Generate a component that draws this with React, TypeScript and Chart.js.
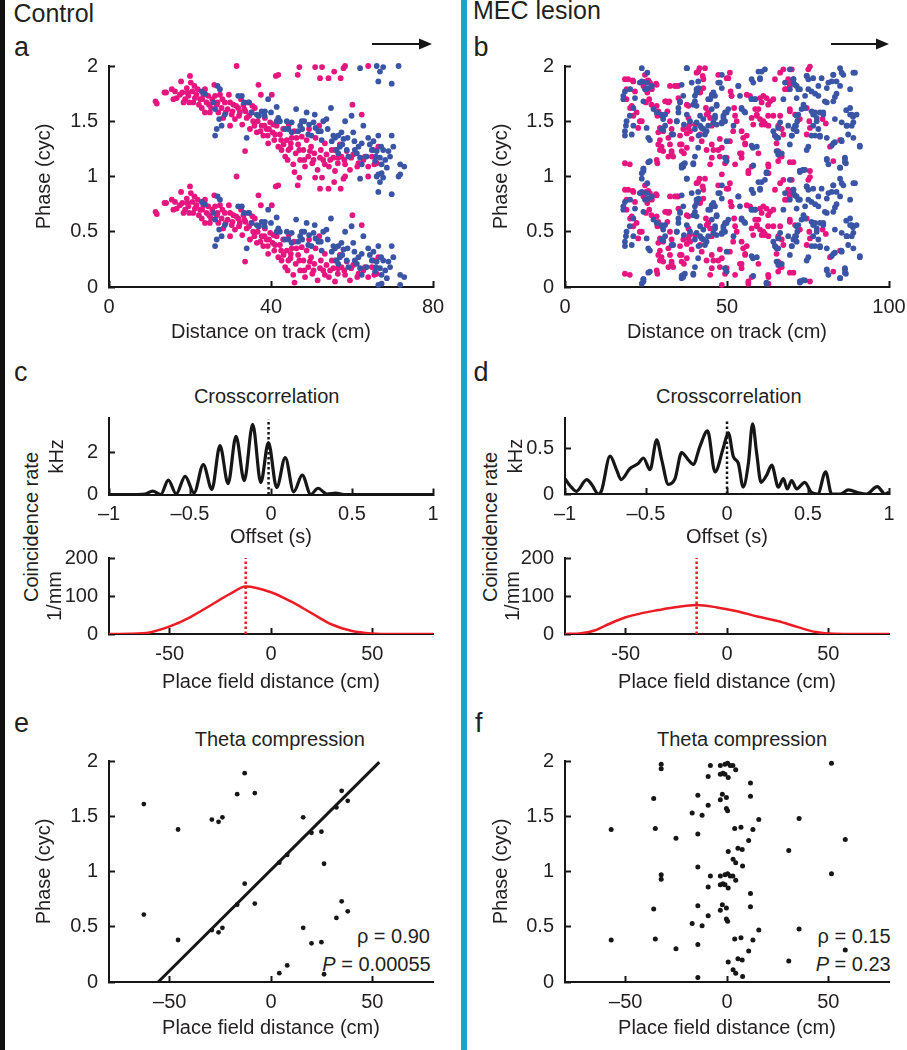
import React, { useEffect, useRef } from 'react';
import { Chart, registerables } from 'chart.js';

Chart.register(...registerables);

const FONT = "'Liberation Sans', Arial, Helvetica, sans-serif";
const INK = '#231f20';
const PINK = '#e6157f';
const BLUE = '#3a55a5';
const RED = '#ec1c24';
const CYAN = '#1ba5c9';
const LINE = '#161616';

// ---------- panel a (Control): distance on track (cm) vs theta phase (cycle, plotted twice) ----------
const aPinkX = [11.5, 11.8, 13.7, 14.1, 15.9, 16.3, 17.8, 18.1, 18.8, 19.2, 19.6, 20.0, 20.2, 20.6, 20.8, 21.2, 21.9, 22.5, 22.9, 23.3, 23.7, 24.1, 24.5, 25.2, 25.5, 26.0, 26.6, 27.0, 27.4, 27.8, 28.2, 28.6, 29.3, 29.6, 29.9, 30.3, 30.7, 31.1, 31.5, 31.9, 32.1, 32.6, 32.9, 33.4, 33.6, 34.0, 34.4, 34.8, 35.2, 35.6, 36.0, 36.5, 36.9, 37.0, 37.5, 37.7, 38.1, 38.5, 38.9, 39.3, 39.8, 40.2, 40.4, 40.8, 41.2, 41.4, 41.8, 41.8, 42.2, 42.6, 43.0, 43.5, 43.9, 44.1, 44.4, 44.8, 45.1, 45.5, 45.7, 46.1, 46.6, 46.7, 47.2, 47.6, 48.0, 48.4, 48.8, 49.2, 49.4, 49.9, 50.2, 50.7, 51.0, 51.5, 51.9, 52.3, 52.9, 53.3, 53.7, 54.3, 55.0, 55.4, 55.8, 56.5, 57.0, 57.4, 58.1, 58.7, 59.5, 60.1, 60.3, 61.6, 62.4, 62.8, 64.0, 65.3, 66.1, 66.5, 45.8, 47.0, 50.9, 52.1, 52.6, 54.2, 55.6, 57.2, 57.9, 58.3, 64.0,
  15.5, 16.7, 17.5, 18.4, 19.4, 19.8, 21.1, 21.6, 22.2, 23.0, 23.7, 24.7, 24.9, 26.2, 26.8, 28.0, 28.8, 29.9, 30.5, 31.4, 32.3, 33.2, 33.7, 34.6, 35.4, 35.9, 36.7, 37.4, 38.4, 39.2, 39.5, 40.6, 41.0, 42.5, 43.1, 44.3, 44.9, 46.3, 47.0, 48.2, 49.6, 50.5, 52.1, 53.3, 54.6, 55.8, 56.6, 58.3, 59.8, 61.3, 63.2, 64.9, 65.5];
const aPinkP = [0.68, 0.66, 0.76, 0.76, 0.70, 0.77, 0.86, 0.76, 0.70, 0.80, 0.73, 0.91, 0.85, 0.77, 0.67, 0.71, 0.79, 0.70, 0.62, 0.74, 0.58, 0.67, 0.73, 0.62, 0.70, 0.83, 0.65, 0.58, 0.74, 0.62, 0.53, 0.67, 0.61, 0.74, 0.46, 0.56, 0.65, 0.52, 1.0, 0.62, 0.55, 0.70, 0.47, 0.61, 0.23, 0.53, 0.67, 0.43, 0.58, 0.50, 0.62, 0.40, 0.83, 0.55, 0.74, 0.46, 0.37, 0.53, 0.43, 0.30, 0.49, 0.74, 0.40, 0.33, 0.91, 0.46, 0.92, 0.27, 0.38, 0.24, 0.43, 0.18, 0.33, 0.15, 0.47, 0.26, 0.35, 0.11, 0.41, 0.21, 0.92, 0.29, 0.15, 0.36, 0.24, 0.09, 0.33, 0.18, 0.43, 0.27, 0.12, 0.21, 0.35, 0.06, 0.46, 0.24, 0.15, 0.30, 0.20, 0.09, 0.24, 0.17, 0.05, 0.12, 0.29, 0.18, 0.15, 0.23, 0.06, 0.65, 0.20, 0.12, 0.56, 0.15, 0.09, 0.24, 0.12, 0.27, 0.04, 0.99, 0.99, 0.89, 0.99, 0.89, 0.95, 0.89, 0.98, 1.0, 1.0,
  0.79, 0.71, 0.74, 0.67, 0.76, 0.67, 0.82, 0.74, 0.65, 0.70, 0.79, 0.65, 0.58, 0.73, 0.67, 0.70, 0.58, 0.67, 0.59, 0.64, 0.58, 0.65, 0.59, 0.55, 0.64, 0.46, 0.50, 0.41, 0.46, 0.37, 0.43, 0.47, 0.38, 0.33, 0.29, 0.24, 0.30, 0.35, 0.24, 0.15, 0.23, 0.15, 0.17, 0.11, 0.15, 0.24, 0.17, 0.11, 0.17, 0.09, 0.18, 0.18, 0.11];
const aBlueX = [22.9, 23.7, 25.8, 26.2, 26.8, 27.4, 27.2, 26.6, 27.8, 26.2, 28.6, 31.9, 32.8, 33.4, 34.6, 34.0, 35.2, 36.5, 36.9, 37.7, 38.5, 39.3, 40.0, 41.4, 41.4, 42.2, 43.5, 44.3, 45.1, 46.2, 46.7, 47.2, 47.7, 48.2, 48.8, 49.4, 50.0, 50.8, 51.0, 51.7, 52.3, 52.9, 53.7, 54.8, 55.0, 55.8, 56.2, 56.6, 57.0, 57.4, 57.9, 58.3, 58.7, 59.1, 59.9, 60.6, 60.7, 61.6, 62.0, 62.4, 62.8, 63.6, 64.0, 64.9, 65.3, 65.7, 66.1, 66.5, 66.9, 67.3, 67.7, 68.6, 69.0, 69.4, 69.8, 70.2, 67.3, 71.9, 72.9, 71.9, 66.5, 62.0, 66.1, 66.9, 67.7, 66.5, 69.8, 71.5,
  45.1, 47.6, 49.2, 50.5, 52.5, 54.0, 55.4, 56.6, 57.6, 58.9, 60.3, 61.2, 62.4, 64.4, 65.9, 67.2, 68.2, 41.8, 43.9, 38.4];
const aBlueP = [0.77, 0.75, 0.67, 0.61, 0.82, 0.79, 0.52, 0.43, 0.46, 0.37, 0.56, 0.73, 0.73, 0.67, 0.67, 0.35, 0.58, 0.56, 0.55, 0.59, 0.59, 0.70, 0.58, 0.63, 0.50, 0.50, 0.43, 0.43, 0.49, 0.61, 0.41, 0.46, 0.43, 0.50, 0.58, 0.47, 0.37, 0.56, 0.44, 0.41, 0.41, 0.50, 0.52, 0.62, 0.32, 0.35, 0.24, 0.37, 0.27, 0.40, 0.34, 0.50, 0.24, 0.18, 0.55, 0.32, 0.24, 0.27, 0.17, 0.11, 0.46, 0.18, 0.35, 0.24, 0.32, 0.14, 0.23, 0.37, 0.17, 0.11, 0.24, 0.08, 0.23, 0.18, 0.37, 0.27, 0.03, 0.11, 0.09, 0.02, 0.02, 0.98, 1.0, 0.95, 0.99, 0.86, 0.84, 1.0,
  0.40, 0.50, 0.38, 0.49, 0.33, 0.43, 0.37, 0.21, 0.29, 0.35, 0.40, 0.21, 0.30, 0.29, 0.18, 0.27, 0.15, 0.53, 0.50, 0.55];

// ---------- panel b (MEC lesion) ----------
const bPinkX = [18.5, 19.5, 20.9, 18.5, 20.0, 19.0, 20.6, 21.6, 22.1, 23.1, 24.2, 25.0, 25.7, 26.2, 26.7, 24.7, 25.4, 25.0, 26.0, 26.7, 28.1, 28.5, 28.8, 29.3, 29.8, 30.3, 28.3, 28.5, 31.2, 32.2, 31.6, 32.4, 32.9, 31.9, 32.4, 32.9, 33.4, 33.9, 34.9, 35.5, 36.0, 36.5, 36.7, 37.6, 38.1, 38.1, 38.4, 40.6, 41.5, 41.7, 42.5, 42.7, 43.5, 44.2, 41.7, 42.2, 43.7, 44.8, 45.3, 47.3, 47.8, 48.4, 49.4, 50.4, 50.9, 51.1, 51.4, 52.2, 52.5, 53.0, 54.5, 55.0, 55.6, 54.0, 54.5, 56.1, 57.1, 56.6, 57.6, 58.1, 58.7, 59.2, 60.2, 60.7, 61.2, 61.7, 62.8, 62.8, 62.8, 63.3, 64.3, 64.8, 65.3, 65.8, 66.4, 66.4, 67.4, 68.4, 68.9, 69.4, 69.4, 70.5, 71.0, 74.6, 75.1, 75.6, 75.4, 75.6, 81.8, 84.9, 82.8, 79.5, 80.5];
const bPinkP = [0.88, 0.88, 0.87, 0.12, 0.11, 0.79, 0.64, 0.77, 0.58, 0.50, 0.82, 0.86, 0.87, 0.85, 0.80, 0.92, 0.76, 0.67, 0.70, 0.65, 0.84, 0.55, 0.40, 0.33, 0.27, 0.23, 0.15, 0.12, 0.68, 0.68, 0.59, 0.50, 0.43, 0.35, 0.29, 0.23, 0.18, 0.82, 0.82, 0.37, 0.29, 0.43, 0.21, 0.39, 0.64, 0.53, 0.47, 0.94, 0.98, 0.77, 0.91, 0.80, 0.62, 0.58, 0.38, 0.32, 0.24, 0.11, 0.17, 0.24, 0.18, 0.02, 0.12, 0.89, 0.94, 0.77, 0.73, 0.62, 0.55, 0.50, 0.41, 0.35, 0.30, 0.21, 0.17, 0.74, 0.73, 0.03, 0.09, 0.47, 0.61, 0.56, 0.71, 0.67, 0.50, 0.48, 0.03, 0.09, 0.46, 0.68, 0.70, 0.37, 0.30, 0.23, 0.18, 0.94, 0.97, 0.79, 0.85, 0.61, 0.13, 0.13, 0.56, 0.62, 0.97, 0.995, 0.50, 0.44, 0.27, 0.33, 0.14, 0.52, 0.48];
const bPinkXMore = [21.1, 26.8, 28.3, 32.4, 34.5, 19.0, 20.1, 21.1, 23.7, 22.6, 28.3, 28.8, 29.8, 30.9, 31.9, 29.3, 30.3, 28.8, 29.3, 32.9, 31.9, 35.5, 36.0, 35.0, 37.6, 38.1, 38.6, 40.1, 39.1, 37.6, 41.1, 43.2, 42.7, 41.7, 43.7, 44.8, 45.3, 45.3, 45.8, 47.8, 48.4, 47.3, 49.9, 51.4, 49.9, 50.9, 51.9, 52.5,
  64.8, 68.9, 70.0, 67.9, 69.4, 61.2, 62.2, 62.7, 59.7, 59.2, 57.6, 60.2, 60.7, 61.6, 62.7, 64.3, 66.4, 65.8, 66.9, 67.4, 69.4, 72.5, 74.6, 56.1, 55.6, 54.5, 59.7, 62.7, 65.8, 66.9, 56.6, 75.6];
const bPinkPMore = [0.86, 0.79, 0.83, 0.82, 0.82, 0.70, 0.62, 0.55, 0.50, 0.44, 0.64, 0.59, 0.55, 0.68, 0.67, 0.44, 0.41, 0.29, 0.24, 0.21, 0.18, 0.29, 0.23, 0.71, 0.65, 0.44, 0.41, 0.47, 0.34, 0.26, 0.95, 0.98, 0.88, 0.76, 0.56, 0.53, 0.46, 0.29, 0.24, 0.34, 0.26, 0.92, 0.89, 0.73, 0.17, 0.32, 0.41, 0.11,
  0.88, 0.88, 0.97, 0.79, 0.82, 0.73, 0.71, 0.65, 0.61, 0.55, 0.53, 0.52, 0.47, 0.47, 0.55, 0.55, 0.55, 0.46, 0.43, 0.38, 0.59, 0.52, 0.38, 0.37, 0.29, 0.21, 0.21, 0.11, 0.14, 0.18, 0.05, 0.05];
const bBlueX = [18.0, 18.5, 18.8, 18.5, 20.0, 21.1, 23.1, 23.7, 24.2, 24.7, 25.4, 25.2, 26.2, 27.3, 28.3, 29.8, 30.3, 30.9, 33.4, 34.5, 35.0, 35.5, 36.0, 37.0, 37.6, 39.1, 40.1, 40.6, 41.2, 39.6, 40.1, 40.6, 41.2, 41.7, 42.2, 42.7, 43.7, 44.2, 44.8, 45.3, 45.8, 46.3, 45.3, 45.8, 46.3, 46.8, 47.8, 48.4, 48.9, 49.4, 49.9, 50.4, 52.0, 53.5, 54.5, 55.6, 57.6, 58.7, 58.1, 60.2, 60.7, 59.2, 58.0, 64.3, 65.3, 65.8, 66.4, 66.9, 67.4, 67.9, 69.4, 70.5, 71.0, 71.5, 72.0, 72.5, 73.4, 72.0, 71.7, 71.3, 70.5, 70.0, 74.6, 75.1, 76.1, 77.2, 78.2, 76.6, 77.7, 78.2, 78.7, 79.7, 80.8, 81.3, 82.8, 83.3, 83.8, 84.9, 85.9, 87.0, 88.0, 89.0, 89.5, 89.0, 91.0, 86.4, 86.7, 80.8, 84.9, 75.1, 74.6, 82.8, 73.6, 72.5, 62.2, 24.2, 26.2, 36.5, 39.6, 49.9, 86.8, 88.9, 83.8, 85.3];
const bBlueP = [0.70, 0.77, 0.46, 0.37, 0.55, 0.46, 0.85, 0.03, 0.07, 0.79, 0.94, 0.85, 0.33, 0.61, 0.58, 0.43, 0.52, 0.46, 0.38, 0.50, 0.58, 0.67, 0.10, 0.12, 0.98, 0.85, 0.73, 0.76, 0.80, 0.65, 0.43, 0.49, 0.37, 0.55, 0.44, 0.52, 0.41, 0.46, 0.70, 0.73, 0.76, 0.73, 0.61, 0.49, 0.55, 0.64, 0.85, 0.49, 0.55, 0.50, 0.58, 0.61, 0.46, 0.82, 0.61, 0.58, 0.70, 0.70, 0.85, 0.89, 0.95, 0.27, 0.26, 0.41, 0.35, 0.44, 0.49, 0.21, 0.70, 0.85, 0.97, 0.88, 0.83, 0.82, 0.79, 0.04, 0.06, 0.56, 0.50, 0.46, 0.43, 0.37, 0.91, 0.88, 0.77, 0.75, 0.82, 0.56, 0.50, 0.43, 0.36, 0.58, 0.67, 0.85, 0.92, 0.72, 0.86, 0.98, 0.92, 0.46, 0.56, 0.49, 0.94, 0.35, 0.27, 0.17, 0.12, 0.15, 0.08, 0.27, 0.24, 0.30, 0.06, 0.05, 0.03, 0.05, 0.14, 0.09, 0.11, 0.14, 0.60, 0.54, 0.75, 0.33];
const bBlueXMore = [23.7, 37.6, 23.7, 25.7, 26.8, 18.0, 20.1, 21.6, 24.2, 21.1, 19.0, 18.5, 20.6, 25.2, 25.7, 30.3, 29.8, 30.9, 32.9, 34.5, 35.0, 35.5, 36.5, 36.0, 37.6, 38.6, 36.7, 40.1, 40.6, 41.1, 40.6, 41.7, 42.7, 43.2, 41.1, 40.1, 39.6, 36.5, 36.0, 44.2, 45.3, 46.8, 46.3, 46.8, 48.4, 48.9, 49.4, 48.4, 47.3, 48.4, 49.9, 49.4, 24.2, 25.7,
  59.7, 61.7, 57.6, 60.2, 53.5, 54.0, 57.6, 58.6, 54.5, 55.3, 70.5, 70.5, 69.4, 71.5, 74.1, 75.1, 72.5, 74.6, 76.6, 79.2, 82.8, 85.4, 89.0, 82.3, 80.8, 84.9, 88.0, 78.2, 80.2, 82.8, 73.6, 73.0, 76.1, 77.2, 78.7, 79.7, 77.7, 76.6, 76.1, 77.2, 78.7, 80.8, 83.3, 85.4, 86.9, 88.5, 88.0, 88.5, 90.0, 87.4, 85.4, 83.3, 82.3, 91.0, 86.4, 86.4, 84.9, 80.8, 81.3, 71.0, 71.5, 70.0, 69.4, 65.8, 64.8, 65.3, 65.8, 62.2, 72.5, 74.1, 58.1, 57.6, 68.9, 71.5, 74.1];
const bBluePMore = [0.98, 0.98, 0.86, 0.80, 0.82, 0.73, 0.79, 0.71, 0.68, 0.62, 0.50, 0.41, 0.38, 0.44, 0.35, 0.42, 0.56, 0.56, 0.38, 0.50, 0.62, 0.68, 0.73, 0.83, 0.56, 0.50, 0.47, 0.68, 0.64, 0.86, 0.79, 0.46, 0.43, 0.38, 0.26, 0.18, 0.12, 0.11, 0.08, 0.70, 0.74, 0.65, 0.53, 0.47, 0.48, 0.53, 0.58, 0.92, 0.85, 0.80, 0.32, 0.17, 0.07, 0.13,
  0.95, 0.97, 0.88, 0.88, 0.82, 0.73, 0.70, 0.70, 0.62, 0.59, 0.88, 0.85, 0.79, 0.71, 0.73, 0.79, 0.79, 0.91, 0.89, 0.89, 0.92, 0.94, 0.94, 0.86, 0.80, 0.82, 0.79, 0.73, 0.68, 0.68, 0.65, 0.61, 0.59, 0.58, 0.58, 0.56, 0.53, 0.46, 0.37, 0.37, 0.37, 0.35, 0.52, 0.49, 0.46, 0.46, 0.62, 0.56, 0.56, 0.38, 0.32, 0.31, 0.28, 0.28, 0.16, 0.13, 0.08, 0.16, 0.11, 0.46, 0.41, 0.37, 0.29, 0.35, 0.37, 0.23, 0.20, 0.04, 0.05, 0.06, 0.10, 0.28, 0.46, 0.55, 0.62];

// ---------- panels c / d: crosscorrelation (offset s -> kHz) ----------
const cOffset = [-1, -0.85, -0.78, -0.73, -0.68, -0.634, -0.585, -0.53, -0.475, -0.418, -0.365, -0.315, -0.265, -0.216, -0.165, -0.113, -0.063, -0.016, 0.035, 0.088, 0.14, 0.193, 0.245, 0.29, 0.345, 0.4, 0.45, 1];
const cRate = [0, 0, 0.02, 0.16, 0.0, 0.69, 0.03, 0.87, 0.08, 1.43, 0.25, 2.34, 0.52, 2.79, 0.66, 3.36, 0.57, 2.49, 0.33, 1.77, 0.13, 0.93, 0.0, 0.3, 0.02, 0.07, 0.0, 0];
const cZeroLag = -0.015;
const cZeroTop = 3.6;
const dOffset = [-1, -0.97, -0.93, -0.866, -0.835, -0.794, -0.774, -0.722, -0.681, -0.654, -0.6, -0.547, -0.516, -0.475, -0.434, -0.403, -0.362, -0.321, -0.28, -0.239, -0.208, -0.167, -0.12, -0.074, -0.023, 0.008, 0.039, 0.07, 0.1, 0.132, 0.158, 0.183, 0.21, 0.245, 0.276, 0.317, 0.348, 0.372, 0.399, 0.43, 0.48, 0.52, 0.56, 0.609, 0.646, 0.7, 0.749, 0.82, 0.86, 0.928, 0.975, 1];
const dRate = [0.17, 0.095, 0.03, 0.16, 0.106, 0, 0.04, 0.42, 0.265, 0.16, 0.28, 0.34, 0.4, 0.27, 0.6, 0.38, 0.106, 0.17, 0.46, 0.38, 0.33, 0.53, 0.7, 0.246, 0.51, 0.68, 0.417, 0.34, 0.076, 0.34, 0.78, 0.455, 0.13, 0.21, 0.32, 0.076, 0.17, 0.057, 0.15, 0.057, 0.13, 0.02, 0, 0.246, 0, 0, 0.045, 0.01, 0, 0.083, 0, 0.02];
const dZeroLag = 0;
const dZeroTop = 0.83;

// ---------- place-field distance (cm -> 1/mm) ----------
const cFieldX = [-80, -70, -60, -50, -40, -30, -20, -12.5, 0, 10, 20, 30, 40, 50, 60, 70, 80];
const cFieldY = [0, 0.5, 4, 20, 44, 75, 106, 125, 110, 85, 55, 25, 8, 1.5, 0, 0, 0];
const cFieldPeak = -12.5;
const dFieldX = [-80, -72, -65, -58, -50, -42, -34, -25, -15, -5, 5, 15, 25, 35, 44, 53, 65, 80];
const dFieldY = [0, 2, 10, 27, 44, 55, 63, 71, 76, 70, 60, 46, 34, 18, 5, 0.5, 0, 0];
const dFieldPeak = -15;
const fieldMarkTop = 200;

// ---------- panels e / f: theta compression ----------
const eX = [-62.8, -45.9, -29.2, -25.9, -24.0, -16.7, -13.0, -8.0, 4.1, 8.0, 15.9, 20.0, 24.9, 26.2, 32.3, 34.9, 37.9];
const eP = [0.61, 0.38, 0.47, 0.45, 0.49, 0.70, 0.89, 0.71, 0.08, 0.15, 0.49, 0.35, 0.36, 0.07, 0.58, 0.73, 0.64];
const eFitX = [-55.7, 53.5];
const eFitY = [0, 1.99];
const fX = [-57.2, -36.2, -35.4, -32.5, -32.5, -25.2, -14.4, -14.4, -14.4, -9.3, -17.2, -12.3, -9.3, -8.2, -3.3, -3.3, -2.0, -1.0, 0.3, 1.6, 2.9, 4.3, -1.0, 0.6, -2.3, -0.3, -3.3, -0.3, 0.3, 3.8, 6.9, 5.4, 7.5, 0.6, 3.0, 4.3, 7.7, 10.7, 11.6, 11.6, 12.8, 15.7, 30.5, 35.6, 51.6, 58.4];
const fP = [0.38, 0.66, 0.39, 0.97, 0.93, 0.30, 0.69, 0.34, 0.04, 0.60, 0.53, 0.51, 0.86, 0.96, 0.96, 0.88, 0.89, 0.97, 0.98, 0.96, 0.96, 0.92, 0.88, 0.85, 0.70, 0.67, 0.65, 0.57, 0.55, 0.39, 0.40, 0.21, 0.20, 0.18, 0.11, 0.08, 0.05, 0.28, 0.80, 0.68, 0.38, 0.47, 0.19, 0.48, 0.98, 0.29];

// ---------- tick labels ----------
const phaseTicks = [0, 0.5, 1, 1.5, 2];
const phaseLabels = ['0', '0.5', '1', '1.5', '2'];
const trackTicksA = [0, 40, 80];
const trackLabelsA = ['0', '40', '80'];
const trackTicksB = [0, 50, 100];
const trackLabelsB = ['0', '50', '100'];
const offsetTicks = [-1, -0.5, 0, 0.5, 1];
const offsetLabels = ['\u20131', '\u20130.5', '0', '0.5', '1'];
const kHzTicksC = [0, 2];
const kHzLabelsC = ['0', '2'];
const kHzTicksD = [0, 0.5];
const kHzLabelsD = ['0', '0.5'];
const mmTicks = [0, 100, 200];
const mmLabels = ['0', '100', '200'];
const fieldTicks = [-50, 0, 50];
const fieldLabelsMid = ['-50', '0', '50'];
const fieldLabelsLow = ['\u201350', '0', '50'];

const pts = (xs: number[], ys: number[]) => xs.map((x, i) => ({ x, y: ys[i] }));
const twoCycles = (xs: number[], ps: number[]) => xs.flatMap((x, i) => [{ x, y: ps[i] }, { x, y: ps[i] + 1 }]);
const vline = (x: number, top: number) => [{ x, y: 0 }, { x, y: top }];

type Box = { cx: number; cy: number; cw: number; ch: number; L: number; T: number; R: number; B: number; yTitleX: number; xTitleY: number };
type AxisSpec = { min: number; max: number; ticks: number[]; labels: string[]; title: string };

function axisBase(spec: AxisSpec, tickPad: number) {
  return {
    type: 'linear',
    min: spec.min,
    max: spec.max,
    afterBuildTicks: (s: any) => { s.ticks = spec.ticks.map((v) => ({ value: v })); },
    ticks: {
      autoSkip: false, maxRotation: 0, minRotation: 0, padding: tickPad,
      color: INK, font: { family: FONT, size: 20 },
      callback: (_v: any, i: number) => spec.labels[i],
    },
    grid: { display: true, drawOnChartArea: false, drawTicks: true, tickLength: -6, tickWidth: 2, tickColor: LINE },
    border: { display: true, color: LINE, width: 2 },
  };
}

function makeConfig(box: Box, xs: AxisSpec, ys: AxisSpec, datasets: any[]): any {
  return {
    type: 'scatter',
    data: { datasets },
    options: {
      responsive: false, animation: false, devicePixelRatio: 1, events: [],
      layout: { padding: { left: 0, top: box.T - box.cy, right: box.cx + box.cw - box.R, bottom: 0 } },
      plugins: { legend: { display: false }, tooltip: { enabled: false }, title: { display: false } },
      scales: {
        x: {
          ...axisBase(xs, 14), position: 'bottom',
          afterFit: (s: any) => { s.height = box.cy + box.ch - box.B; s.paddingLeft = 0; s.paddingRight = 0; s.paddingTop = 0; s.paddingBottom = 0; },
          title: { display: true, text: xs.title, color: INK, font: { family: FONT, size: 20 }, padding: { top: 0, bottom: box.cy + box.ch - 12 - box.xTitleY } },
        },
        y: {
          ...axisBase(ys, 17), position: 'left',
          afterFit: (s: any) => { s.width = box.L - box.cx; s.paddingLeft = 0; s.paddingRight = 0; s.paddingTop = 0; s.paddingBottom = 0; },
          title: { display: true, text: ys.title, color: INK, font: { family: FONT, size: 20 }, padding: { top: box.yTitleX - box.cx - 12, bottom: 0 } },
        },
      },
    },
  };
}

const dots = (data: any[], color: string, r: number) => ({
  data, backgroundColor: color, borderColor: color, pointRadius: r, pointBorderWidth: 0, pointHoverRadius: r, clip: false,
});
const curve = (data: any[], color: string, w: number) => ({
  data, showLine: true, borderColor: color, backgroundColor: color, borderWidth: w, pointRadius: 0,
  cubicInterpolationMode: 'monotone', fill: false,
});
const dotted = (data: any[], color: string, w: number) => ({
  data, showLine: true, borderColor: color, borderWidth: w, pointRadius: 0, borderDash: [2.5, 2.5], fill: false, clip: false,
});

const BOX_A: Box = { cx: 10, cy: 50, cw: 435, ch: 295, L: 109, T: 66, R: 433, B: 287, yTitleX: 44.7, xTitleY: 332 };
const BOX_B: Box = { cx: 470, cy: 50, cw: 437, ch: 295, L: 565, T: 66, R: 889, B: 287, yTitleX: 501.3, xTitleY: 332 };
const BOX_C1: Box = { cx: 10, cy: 405, cw: 435, ch: 145, L: 109, T: 418.3, R: 433, B: 494.5, yTitleX: 57.5, xTitleY: 537 };
const BOX_C2: Box = { cx: 10, cy: 540, cw: 435, ch: 160, L: 109, T: 558, R: 433, B: 634, yTitleX: 55.5, xTitleY: 682 };
const BOX_D1: Box = { cx: 470, cy: 405, cw: 437, ch: 145, L: 565, T: 418, R: 889, B: 494, yTitleX: 516.5, xTitleY: 537 };
const BOX_D2: Box = { cx: 470, cy: 540, cw: 437, ch: 160, L: 565, T: 558, R: 889, B: 634, yTitleX: 513, xTitleY: 682 };
const BOX_E: Box = { cx: 10, cy: 745, cw: 435, ch: 300, L: 109, T: 761, R: 433, B: 982, yTitleX: 44.7, xTitleY: 1028 };
const BOX_F: Box = { cx: 470, cy: 745, cw: 437, ch: 300, L: 565, T: 761, R: 889, B: 982, yTitleX: 501.3, xTitleY: 1028 };

const phaseAxis: AxisSpec = { min: 0, max: 2, ticks: phaseTicks, labels: phaseLabels, title: 'Phase (cyc)' };
const R_TRACK = 2.9;

const configs: [Box, () => any][] = [
  [BOX_A, () => makeConfig(BOX_A,
    { min: 0, max: 80, ticks: trackTicksA, labels: trackLabelsA, title: 'Distance on track (cm)' }, phaseAxis,
    [dots(twoCycles(aBlueX, aBlueP), BLUE, R_TRACK), dots(twoCycles(aPinkX, aPinkP), PINK, R_TRACK)])],
  [BOX_B, () => makeConfig(BOX_B,
    { min: 0, max: 100, ticks: trackTicksB, labels: trackLabelsB, title: 'Distance on track (cm)' }, phaseAxis,
    [dots([...twoCycles(bBlueX, bBlueP), ...twoCycles(bBlueXMore, bBluePMore)], BLUE, R_TRACK),
     dots([...twoCycles(bPinkX, bPinkP), ...twoCycles(bPinkXMore, bPinkPMore)], PINK, R_TRACK)])],
  [BOX_C1, () => makeConfig(BOX_C1,
    { min: -1, max: 1, ticks: offsetTicks, labels: offsetLabels, title: 'Offset (s)' },
    { min: 0, max: 3.65, ticks: kHzTicksC, labels: kHzLabelsC, title: 'kHz' },
    [dotted(vline(cZeroLag, cZeroTop), LINE, 2.5), curve(pts(cOffset, cRate), LINE, 3.2)])],
  [BOX_C2, () => makeConfig(BOX_C2,
    { min: -80, max: 80, ticks: fieldTicks, labels: fieldLabelsMid, title: 'Place field distance (cm)' },
    { min: 0, max: 200, ticks: mmTicks, labels: mmLabels, title: '1/mm' },
    [dotted(vline(cFieldPeak, fieldMarkTop), RED, 2.5), curve(pts(cFieldX, cFieldY), RED, 2.5)])],
  [BOX_D1, () => makeConfig(BOX_D1,
    { min: -1, max: 1, ticks: offsetTicks, labels: offsetLabels, title: 'Offset (s)' },
    { min: 0, max: 0.844, ticks: kHzTicksD, labels: kHzLabelsD, title: 'kHz' },
    [dotted(vline(dZeroLag, dZeroTop), LINE, 2.5), curve(pts(dOffset, dRate), LINE, 3.2)])],
  [BOX_D2, () => makeConfig(BOX_D2,
    { min: -80, max: 80, ticks: fieldTicks, labels: fieldLabelsMid, title: 'Place field distance (cm)' },
    { min: 0, max: 200, ticks: mmTicks, labels: mmLabels, title: '1/mm' },
    [dotted(vline(dFieldPeak, fieldMarkTop), RED, 2.5), curve(pts(dFieldX, dFieldY), RED, 2.5)])],
  [BOX_E, () => makeConfig(BOX_E,
    { min: -80, max: 80, ticks: fieldTicks, labels: fieldLabelsLow, title: 'Place field distance (cm)' }, phaseAxis,
    [{ ...curve(pts(eFitX, eFitY), LINE, 3), cubicInterpolationMode: 'default', tension: 0, clip: false }, dots(twoCycles(eX, eP), LINE, 2.4)])],
  [BOX_F, () => makeConfig(BOX_F,
    { min: -80, max: 80, ticks: fieldTicks, labels: fieldLabelsLow, title: 'Place field distance (cm)' }, phaseAxis,
    [dots(twoCycles(fX, fP), LINE, 2.5)])],
];

function ChartCanvas({ box, make }: { box: Box; make: () => any }) {
  const ref = useRef<HTMLCanvasElement>(null);
  useEffect(() => {
    const chart = new Chart(ref.current as HTMLCanvasElement, make());
    return () => chart.destroy();
  }, []);
  return (
    <canvas ref={ref} width={box.cw} height={box.ch}
      style={{ position: 'absolute', left: box.cx, top: box.cy, width: box.cw, height: box.ch }} />
  );
}

function Txt({ left, top, size, children, width, align, italic }: any) {
  return (
    <div style={{
      position: 'absolute', left, top, fontSize: size, lineHeight: `${size}px`, whiteSpace: 'nowrap',
      width: width ?? 'auto', textAlign: align ?? 'left', fontStyle: italic ? 'italic' : 'normal',
    }}>{children}</div>
  );
}

// centered text: cx = horizontal center, cy = cap-height center
const Center = ({ cx, cy, children }: any) => (
  <Txt left={cx - 150} top={cy - 9.8} size={20} width={300} align="center">{children}</Txt>
);
// right-aligned text ending at rx
const Right = ({ rx, cy, children }: any) => (
  <Txt left={rx - 200} top={cy - 9.8} size={20} width={200} align="right">{children}</Txt>
);
const Vertical = ({ cx, cy, children }: any) => (
  <div style={{
    position: 'absolute', left: cx - 150, top: cy - 10, width: 300, height: 20, lineHeight: '20px',
    fontSize: 20, textAlign: 'center', transform: 'rotate(-90deg)', whiteSpace: 'nowrap',
  }}>{children}</div>
);

export default function App() {
  return (
    <div style={{
      position: 'absolute', left: 0, top: 0, width: 907, height: 1050, background: '#fff',
      overflow: 'hidden', fontFamily: FONT, color: INK,
    }}>
      <div style={{ position: 'absolute', left: 0, top: 0, width: 5, height: 1050, background: '#111' }} />
      <div style={{ position: 'absolute', left: 461, top: 0, width: 5.5, height: 1050, background: CYAN }} />

      <Txt left={13.5} top={0.5} size={25}>Control</Txt>
      <Txt left={473} top={-1.9} size={25}>MEC lesion</Txt>
      <Txt left={14} top={34.1} size={27}>a</Txt>
      <Txt left={473.5} top={34.4} size={27}>b</Txt>
      <Txt left={14} top={359.1} size={27}>c</Txt>
      <Txt left={473.5} top={359.1} size={27}>d</Txt>
      <Txt left={14} top={710.1} size={27}>e</Txt>
      <Txt left={475} top={710.1} size={27}>f</Txt>

      <Center cx={266.7} cy={395.3}>Crosscorrelation</Center>
      <Center cx={728.8} cy={395.3}>Crosscorrelation</Center>
      <Center cx={279.8} cy={738.6}>Theta compression</Center>
      <Center cx={742} cy={738.6}>Theta compression</Center>

      <Vertical cx={31} cy={527}>Coincidence rate</Vertical>
      <Vertical cx={489.5} cy={527}>Coincidence rate</Vertical>

      <Right rx={430} cy={936}>{'\u03c1 = 0.90'}</Right>
      <Right rx={430.7} cy={964}><i>P</i> = 0.00055</Right>
      <Right rx={890.7} cy={936}>{'\u03c1 = 0.15'}</Right>
      <Right rx={890.7} cy={964}><i>P</i> = 0.23</Right>

      <svg width={907} height={1050} style={{ position: 'absolute', left: 0, top: 0, pointerEvents: 'none' }}>
        <line x1={372} y1={44} x2={422} y2={44} stroke={LINE} strokeWidth={2.2} />
        <polygon points="419,38.5 432,44 419,49.5" fill={LINE} />
        <line x1={831} y1={44} x2={879} y2={44} stroke={LINE} strokeWidth={2.2} />
        <polygon points="876,38.5 889,44 876,49.5" fill={LINE} />
      </svg>

      {configs.map(([box, make], i) => (
        <ChartCanvas key={i} box={box} make={make} />
      ))}
    </div>
  );
}
